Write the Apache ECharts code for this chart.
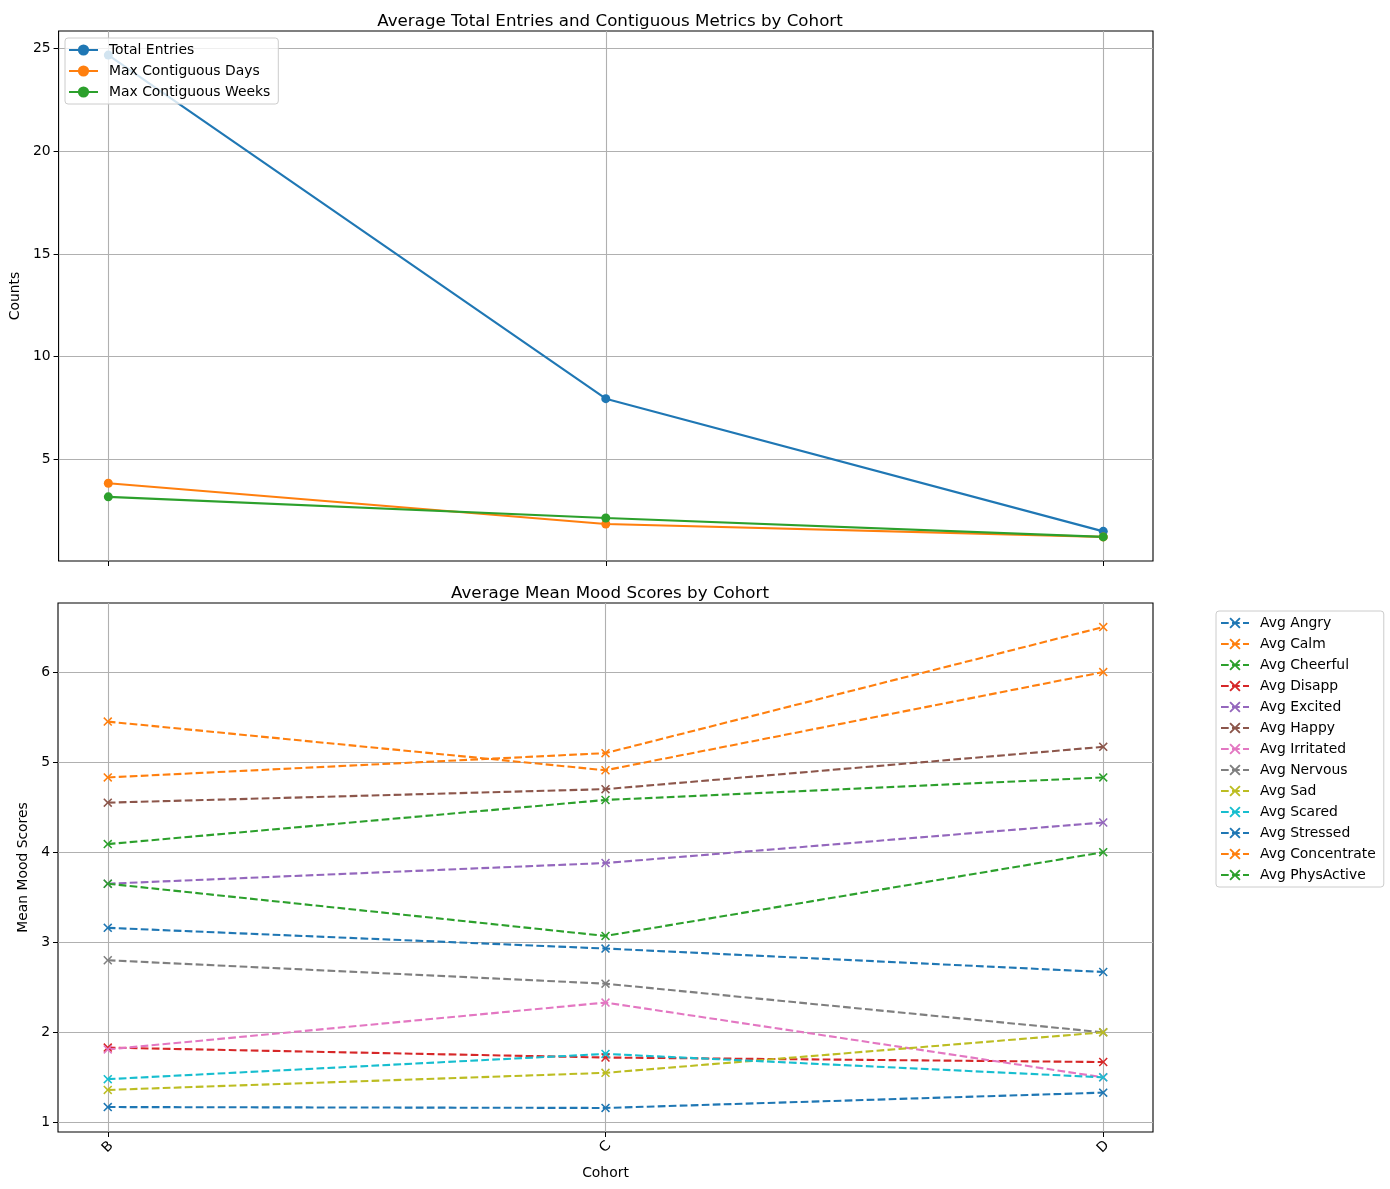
<!DOCTYPE html>
<html>
<head>
<meta charset="utf-8">
<script src="https://cdn.jsdelivr.net/npm/echarts@6/dist/echarts.min.js"></script>
<style>
html, body { margin: 0; padding: 0; background: #fff; }
#chart { width: 1390px; height: 1189px; }
</style>
</head>
<body>
<div id="chart"></div>
<script>
// cohorts on the shared x axis
var cohorts = ['B', 'C', 'D'];
var cohortPos = [0, 1, 2];

// top panel
var totalEntries = [24.68, 7.95, 1.49];
var maxDays = [3.83, 1.85, 1.22];
var maxWeeks = [3.17, 2.14, 1.22];
var countTicks = [5, 10, 15, 20, 25];

// bottom panel
var avgAngry = [1.17, 1.16, 1.33];
var avgCalm = [4.83, 5.10, 6.50];
var avgCheerful = [4.09, 4.58, 4.83];
var avgDisapp = [1.83, 1.72, 1.67];
var avgExcited = [3.65, 3.88, 4.33];
var avgHappy = [4.55, 4.70, 5.17];
var avgIrritated = [1.81, 2.33, 1.50];
var avgNervous = [2.80, 2.54, 2.00];
var avgSad = [1.36, 1.55, 2.00];
var avgScared = [1.48, 1.76, 1.50];
var avgStressed = [3.16, 2.93, 2.67];
var avgConcentrate = [5.45, 4.91, 6.00];
var avgPhysActive = [3.65, 3.07, 4.00];
var moodTicks = [1, 2, 3, 4, 5, 6];

var tab10 = ['#1f77b4', '#ff7f0e', '#2ca02c', '#d62728', '#9467bd',
             '#8c564b', '#e377c2', '#7f7f7f', '#bcbd22', '#17becf'];

var FONT = 'DejaVu Sans';
var FS = 13.9;

var chartDom = document.getElementById('chart');
var myChart = echarts.init(chartDom);

function pairs(vals) {
  return vals.map(function (v, i) { return [cohortPos[i], v]; });
}

// matplotlib style 5% margins
function padRange(list) {
  var all = [].concat.apply([], list);
  var lo = Math.min.apply(null, all), hi = Math.max.apply(null, all);
  var m = (hi - lo) * 0.05;
  return [lo - m, hi + m];
}

var topSets = [
  ['Total Entries', totalEntries],
  ['Max Contiguous Days', maxDays],
  ['Max Contiguous Weeks', maxWeeks]
];
var moodSets = [
  ['Avg Angry', avgAngry],
  ['Avg Calm', avgCalm],
  ['Avg Cheerful', avgCheerful],
  ['Avg Disapp', avgDisapp],
  ['Avg Excited', avgExcited],
  ['Avg Happy', avgHappy],
  ['Avg Irritated', avgIrritated],
  ['Avg Nervous', avgNervous],
  ['Avg Sad', avgSad],
  ['Avg Scared', avgScared],
  ['Avg Stressed', avgStressed],
  ['Avg Concentrate', avgConcentrate],
  ['Avg PhysActive', avgPhysActive]
];

var topRange = padRange(topSets.map(function (s) { return s[1]; }));
var moodRange = padRange(moodSets.map(function (s) { return s[1]; }));

var xMark = 'path://M0,1.2 L1.2,0 L5,3.8 L8.8,0 L10,1.2 L6.2,5 L10,8.8 L8.8,10 L5,6.2 L1.2,10 L0,8.8 L3.8,5 Z';

var gridLine = { show: true, lineStyle: { color: '#b0b0b0', width: 1.1 } };

function xAxisCfg(idx, showLabels) {
  return {
    gridIndex: idx,
    type: 'value',
    min: -0.1,
    max: 2.1,
    axisLine: { show: false, onZero: false },
    axisTick: { show: true, length: 5, customValues: cohortPos, lineStyle: { color: '#000' } },
    axisLabel: {
      show: showLabels,
      customValues: cohortPos,
      formatter: function (v) { return cohorts[Math.round(v)] || ''; },
      rotate: 45,
      align: 'center',
      verticalAlign: 'middle',
      margin: 15,
      fontFamily: FONT, fontSize: FS, color: '#000'
    },
    splitLine: gridLine,
    name: showLabels ? 'Cohort' : '',
    nameLocation: 'middle',
    nameGap: 34,
    nameTextStyle: { fontFamily: FONT, fontSize: FS, color: '#000' }
  };
}

function yAxisCfg(idx, range, ticks, name, gap) {
  return {
    gridIndex: idx,
    type: 'value',
    min: range[0],
    max: range[1],
    axisLine: { show: false, onZero: false },
    axisTick: { show: true, length: 5, customValues: ticks, lineStyle: { color: '#000' } },
    axisLabel: { customValues: ticks, margin: 8, fontFamily: FONT, fontSize: FS, color: '#000' },
    splitLine: gridLine,
    name: name,
    nameLocation: 'middle',
    nameRotate: 90,
    nameGap: gap,
    nameTextStyle: { fontFamily: FONT, fontSize: FS, color: '#000' }
  };
}

var series = [];
topSets.forEach(function (s, i) {
  series.push({
    name: s[0],
    type: 'line',
    xAxisIndex: 0,
    yAxisIndex: 0,
    data: pairs(s[1]),
    symbol: 'circle',
    symbolSize: 9,
    color: tab10[i],
    lineStyle: { width: 2.1 },
    itemStyle: { color: tab10[i] }
  });
});
moodSets.forEach(function (s, i) {
  var c = tab10[i % 10];
  series.push({
    name: s[0],
    type: 'line',
    xAxisIndex: 1,
    yAxisIndex: 1,
    data: pairs(s[1]),
    symbol: xMark,
    symbolSize: 9,
    color: c,
    lineStyle: { width: 2.1, type: [7.7, 3.3] },
    itemStyle: { color: c }
  });
});

var option = {
  animation: false,
  backgroundColor: '#fff',
  textStyle: { fontFamily: FONT },
  title: [
    {
      text: 'Average Total Entries and Contiguous Metrics by Cohort',
      left: 605, top: 8, textAlign: 'center',
      textStyle: { fontFamily: FONT, fontSize: 16.7, fontWeight: 'normal', color: '#000' }
    },
    {
      text: 'Average Mean Mood Scores by Cohort',
      left: 605, top: 580, textAlign: 'center',
      textStyle: { fontFamily: FONT, fontSize: 16.7, fontWeight: 'normal', color: '#000' }
    }
  ],
  legend: [
    {
      data: topSets.map(function (s) { return s[0]; }),
      orient: 'vertical',
      left: 65, top: 38,
      itemWidth: 29, itemHeight: 14, itemGap: 7,
      padding: [5, 8, 5, 3],
      backgroundColor: 'rgba(255,255,255,0.8)',
      borderColor: '#cccccc', borderWidth: 1, borderRadius: 3,
      textStyle: { fontFamily: FONT, fontSize: FS, color: '#000', padding: [0, 0, 0, 6] }
    },
    {
      data: moodSets.map(function (s) { return s[0]; }),
      orient: 'vertical',
      left: 1216, top: 611,
      itemWidth: 28, itemHeight: 14, itemGap: 7,
      padding: [5, 8, 5, 4],
      backgroundColor: 'rgba(255,255,255,0.8)',
      borderColor: '#cccccc', borderWidth: 1, borderRadius: 3,
      textStyle: { fontFamily: FONT, fontSize: FS, color: '#000', padding: [0, 0, 0, 6] }
    }
  ],
  grid: [
    { left: 58, top: 31, width: 1095, height: 530, show: true, borderColor: '#000', borderWidth: 1.1, backgroundColor: 'transparent' },
    { left: 58, top: 603, width: 1095, height: 529, show: true, borderColor: '#000', borderWidth: 1.1, backgroundColor: 'transparent' }
  ],
  xAxis: [xAxisCfg(0, false), xAxisCfg(1, true)],
  yAxis: [
    yAxisCfg(0, topRange, countTicks, 'Counts', 34),
    yAxisCfg(1, moodRange, moodTicks, 'Mean Mood Scores', 25)
  ],
  series: series
};

option && myChart.setOption(option);
</script>
</body>
</html>
